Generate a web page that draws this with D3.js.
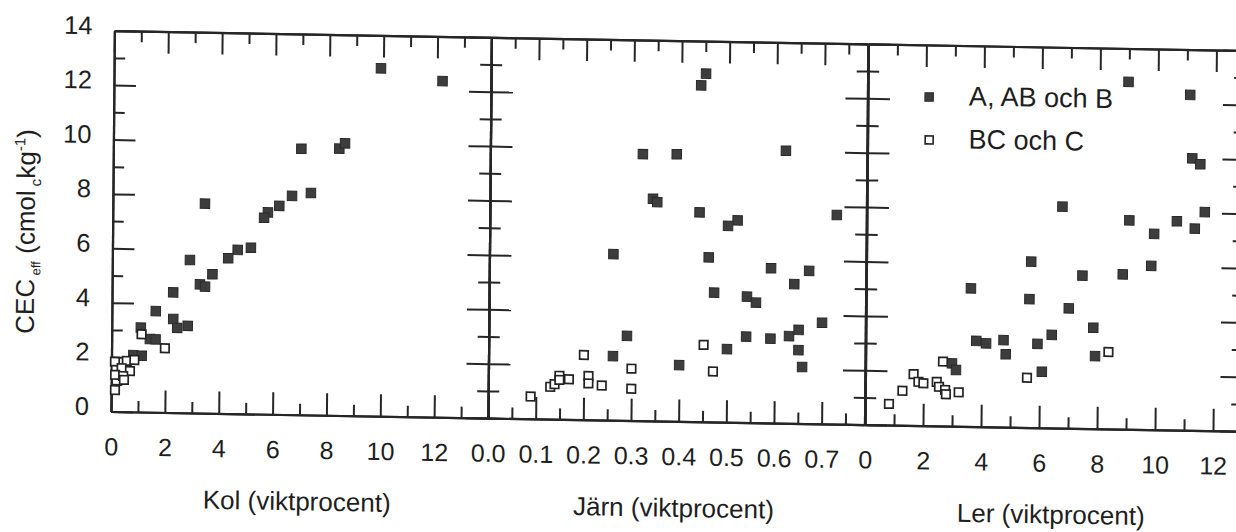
<!DOCTYPE html>
<html>
<head>
<meta charset="utf-8">
<script src="https://cdn.jsdelivr.net/npm/d3@7/dist/d3.min.js"></script>
<style>
  html, body { margin: 0; padding: 0; background: #ffffff; }
  svg { display: block; }
  text { font-family: "Liberation Sans", Arial, sans-serif; fill: #1e1e1e; }
</style>
</head>
<body>
<svg id="chart" width="1236" height="532"></svg>
<script>
// ---------------- DATA ----------------
const cecTicks = [0, 2, 4, 6, 8, 10, 12, 14];

// Kol (carbon, wt %)
const kolFilledX = [9.91, 12.20, 6.98, 8.39, 8.60, 3.42, 6.65, 7.35, 6.18, 5.76, 5.62, 5.14, 4.65, 4.30, 2.88, 3.72, 3.26, 3.45, 2.27, 1.63, 2.28, 2.43, 2.82, 1.08, 1.42, 1.63, 0.81, 1.12];
const kolFilledY = [12.79, 12.36, 9.78, 9.81, 10.01, 7.70, 8.04, 8.16, 7.67, 7.42, 7.22, 6.11, 6.02, 5.71, 5.62, 5.11, 4.73, 4.65, 4.42, 3.72, 3.44, 3.12, 3.20, 3.10, 2.69, 2.68, 2.09, 2.07];
const kolOpenX = [1.11, 1.98, 0.13, 0.57, 0.85, 0.17, 0.38, 0.69, 0.14, 0.44, 0.47, 0.14];
const kolOpenY = [2.86, 2.36, 1.83, 1.87, 1.91, 1.53, 1.60, 1.50, 1.35, 1.31, 1.17, 0.79];

// Järn (iron, wt %)
const jarnFilledX = [0.451, 0.441, 0.320, 0.391, 0.620, 0.342, 0.351, 0.440, 0.520, 0.500, 0.728, 0.260, 0.460, 0.591, 0.671, 0.640, 0.472, 0.541, 0.560, 0.699, 0.290, 0.540, 0.591, 0.630, 0.650, 0.650, 0.658, 0.500, 0.400, 0.261];
const jarnFilledY = [12.80, 12.37, 9.80, 9.82, 10.02, 8.17, 8.05, 7.70, 7.43, 7.22, 7.69, 6.11, 6.05, 5.69, 5.62, 5.12, 4.76, 4.63, 4.42, 3.72, 3.11, 3.16, 3.10, 3.21, 3.44, 2.70, 2.08, 2.69, 2.07, 2.36];
const jarnOpenX = [0.089, 0.130, 0.139, 0.149, 0.149, 0.169, 0.200, 0.210, 0.210, 0.238, 0.300, 0.300, 0.451, 0.471];
const jarnOpenY = [0.82, 1.19, 1.29, 1.60, 1.45, 1.48, 2.38, 1.61, 1.34, 1.27, 1.91, 1.17, 2.83, 1.86];

// Ler (clay, wt %)
const lerFilledX = [8.98, 11.11, 11.20, 11.48, 6.74, 9.05, 9.91, 10.69, 11.31, 11.65, 5.68, 7.45, 8.84, 9.82, 3.61, 5.63, 6.99, 7.84, 6.41, 3.81, 4.15, 4.75, 5.92, 4.83, 7.91, 6.08, 2.98, 3.12];
const lerFilledY = [12.77, 12.33, 10.00, 9.79, 8.14, 7.68, 7.20, 7.68, 7.42, 8.03, 6.10, 5.62, 5.69, 6.02, 5.08, 4.72, 4.41, 3.71, 3.42, 3.15, 3.07, 3.20, 3.08, 2.68, 2.67, 2.06, 2.31, 2.07];
const lerOpenX = [0.82, 1.28, 1.66, 1.83, 2.00, 2.46, 2.54, 2.75, 2.78, 3.22, 2.67, 5.57, 8.37];
const lerOpenY = [0.78, 1.27, 1.89, 1.61, 1.56, 1.62, 1.44, 1.33, 1.17, 1.25, 2.37, 1.83, 2.83];

const kolTicks = [0, 2, 4, 6, 8, 10, 12];
const jarnTicks = [0.0, 0.1, 0.2, 0.3, 0.4, 0.5, 0.6, 0.7];
const lerTicks = [0, 2, 4, 6, 8, 10, 12];

const panelTitles = ["Kol (viktprocent)", "Järn (viktprocent)", "Ler (viktprocent)"];
const legendLabels = ["A, AB och B", "BC och C"];

// ---------------- LAYOUT ----------------
const svg = d3.select("#chart");
// slight skew of the scanned original
const root = svg.append("g").attr("transform", "matrix(1,0.0175,-0.009,1,3.70,-1.94)");

const yTop = 30.7, yBot = 411.5;
const y = d3.scaleLinear().domain([0, 14]).range([yBot, yTop]);

const panels = [
  { domain: [0, 14], range: [111, 488], major: kolTicks, minor: d3.range(1, 14, 2),
    fmt: d3.format("d"), fx: kolFilledX, fy: kolFilledY, ox: kolOpenX, oy: kolOpenY, title: panelTitles[0] },
  { domain: [0, 0.79], range: [488, 864.5], major: jarnTicks, minor: [0.05, 0.15, 0.25, 0.35, 0.45, 0.55, 0.65, 0.75],
    fmt: d3.format(".1f"), fx: jarnFilledX, fy: jarnFilledY, ox: jarnOpenX, oy: jarnOpenY, title: panelTitles[1] },
  { domain: [0, 13], range: [865, 1242], major: lerTicks, minor: d3.range(1, 13, 2),
    fmt: d3.format("d"), fx: lerFilledX, fy: lerFilledY, ox: lerOpenX, oy: lerOpenY, title: panelTitles[2] }
];

const MAJ = 22, MIN = 11;
const yMajor = cecTicks;
const yMinor = [1, 3, 5, 7, 9, 11, 13];
const axisColor = "#262626";
const FONT = "Liberation Sans, Arial, sans-serif";

function styleAxis(g) {
  g.selectAll("path.domain").attr("stroke", axisColor).attr("stroke-width", 2.2);
  g.selectAll(".tick line").attr("stroke", axisColor).attr("stroke-width", 2);
}

panels.forEach((p, i) => {
  const x = d3.scaleLinear().domain(p.domain).range(p.range);
  const g = root.append("g");

  // bottom axis
  const bMaj = g.append("g").attr("transform", `translate(0,${yBot})`)
    .call(d3.axisBottom(x).tickValues(p.major).tickFormat(p.fmt).tickSize(-MAJ).tickSizeOuter(0).tickPadding(26));
  bMaj.selectAll("text").attr("font-size", 25).attr("fill", "#1e1e1e").attr("font-family", FONT);
  styleAxis(bMaj);
  const bMin = g.append("g").attr("transform", `translate(0,${yBot})`)
    .call(d3.axisBottom(x).tickValues(p.minor).tickFormat("").tickSize(-MIN).tickSizeOuter(0));
  styleAxis(bMin);

  // top axis
  const tMaj = g.append("g").attr("transform", `translate(0,${yTop})`)
    .call(d3.axisTop(x).tickValues(p.major).tickFormat("").tickSize(-MAJ).tickSizeOuter(0));
  styleAxis(tMaj);
  const tMin = g.append("g").attr("transform", `translate(0,${yTop})`)
    .call(d3.axisTop(x).tickValues(p.minor).tickFormat("").tickSize(-MIN).tickSizeOuter(0));
  styleAxis(tMin);

  // left axis
  const lMaj = g.append("g").attr("transform", `translate(${p.range[0]},0)`)
    .call(d3.axisLeft(y).tickValues(yMajor).tickFormat(i === 0 ? d3.format("d") : "").tickSize(-MAJ).tickSizeOuter(0).tickPadding(22));
  lMaj.selectAll("text").attr("font-size", 25.5).attr("dy", "0.13em").attr("fill", "#1e1e1e").attr("font-family", FONT);
  styleAxis(lMaj);
  const lMin = g.append("g").attr("transform", `translate(${p.range[0]},0)`)
    .call(d3.axisLeft(y).tickValues(yMinor).tickFormat("").tickSize(-MIN).tickSizeOuter(0));
  styleAxis(lMin);

  // right axis
  const rMaj = g.append("g").attr("transform", `translate(${p.range[1]},0)`)
    .call(d3.axisRight(y).tickValues(yMajor).tickFormat("").tickSize(-MAJ).tickSizeOuter(0));
  styleAxis(rMaj);
  const rMin = g.append("g").attr("transform", `translate(${p.range[1]},0)`)
    .call(d3.axisRight(y).tickValues(yMinor).tickFormat("").tickSize(-MIN).tickSizeOuter(0));
  styleAxis(rMin);

  // points: filled then open
  const S = 9.5, SO = 8.5;
  g.append("g").selectAll("rect").data(p.fx.map((v, k) => [v, p.fy[k]])).join("rect")
    .attr("x", d => x(d[0]) - S / 2).attr("y", d => y(d[1]) - S / 2)
    .attr("width", S).attr("height", S)
    .attr("fill", "#3d3d3d").attr("stroke", "#2a2a2a").attr("stroke-width", 1);
  g.append("g").selectAll("rect").data(p.ox.map((v, k) => [v, p.oy[k]])).join("rect")
    .attr("x", d => x(d[0]) - SO / 2).attr("y", d => y(d[1]) - SO / 2)
    .attr("width", SO).attr("height", SO)
    .attr("fill", "#ffffff").attr("stroke", "#222222").attr("stroke-width", 1.7);

  // panel title
  g.append("text")
    .attr("x", (p.range[0] + p.range[1]) / 2 - 2)
    .attr("y", 507)
    .attr("text-anchor", "middle")
    .attr("font-size", 26)
    .text(p.title);
});

// legend
const leg = root.append("g");
leg.append("rect").attr("x", 926.2 - 4.25).attr("y", 82.7 - 4.25).attr("width", 8.5).attr("height", 8.5)
  .attr("fill", "#3d3d3d").attr("stroke", "#2a2a2a").attr("stroke-width", 1);
leg.append("rect").attr("x", 926.6 - 4).attr("y", 125.7 - 4).attr("width", 8).attr("height", 8)
  .attr("fill", "#ffffff").attr("stroke", "#222222").attr("stroke-width", 1.6);
leg.append("text").attr("x", 966).attr("y", 90.5).attr("font-size", 27).text(legendLabels[0]);
leg.append("text").attr("x", 966).attr("y", 133.5).attr("font-size", 27).text(legendLabels[1]);

// y-axis title
const yt = root.append("text")
  .attr("transform", "translate(33,233) rotate(-90)")
  .attr("text-anchor", "middle")
  .attr("font-size", 26);
yt.append("tspan").text("CEC");
yt.append("tspan").attr("font-size", 13).attr("dy", 6).text(" eff");
yt.append("tspan").attr("dy", -6).text(" (cmol");
yt.append("tspan").attr("font-size", 15).attr("dy", 6).text(" c");
yt.append("tspan").attr("dy", -6).text("kg");
yt.append("tspan").attr("font-size", 15).attr("dy", -10).text("-1");
yt.append("tspan").attr("dy", 10).text(")");
</script>
</body>
</html>
